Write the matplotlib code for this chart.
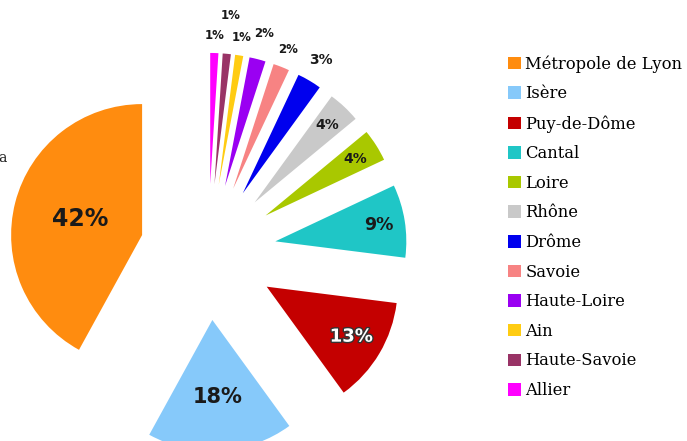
import numpy as np
import matplotlib
matplotlib.use("Agg")
import matplotlib.pyplot as plt
import matplotlib.patheffects as pe
from matplotlib.patches import Patch

# share of each département, in percent
departements = ["Métropole de Lyon", "Isère", "Puy-de-Dôme", "Cantal", "Loire",
                "Rhône", "Drôme", "Savoie", "Haute-Loire", "Ain",
                "Haute-Savoie", "Allier"]
parts = [42, 18, 13, 9, 4, 4, 3, 2, 2, 1, 1, 1]

couleurs = ["#ff8c0f", "#86c9fa", "#c40000", "#1fc6c6", "#a9c800", "#c9c9c9",
            "#0000ee", "#f78383", "#9a00f2", "#ffcc12", "#993366", "#ff00ff"]

# label distance from the pie centre (in radii), size per slice
lab_r = [1.01, 1.11, 1.27, 1.32, 1.33, 1.33, 1.70, 1.66, 1.72, 1.66, 1.81, 1.65]
lab_fs = [17, 15, 13, 12.5, 10, 10, 10, 8.5, 8.5, 8.5, 8.5, 8.5]

fig = plt.figure(figsize=(6.87, 4.41), dpi=100)
ax = fig.add_axes([0, 0, 1, 1])
ax.axis("off")

expl = 0.52
wedges, _ = ax.pie(parts, colors=couleurs, startangle=90, counterclock=True,
                   explode=[expl] * len(parts), radius=1.0,
                   wedgeprops=dict(linewidth=0))

for w, p, r, fs in zip(wedges, parts, lab_r, lab_fs):
    a = np.deg2rad((w.theta1 + w.theta2) / 2)
    kw = dict(ha="center", va="center", fontsize=fs, fontweight="bold",
              family="DejaVu Sans", color="#1a1a1a")
    if p == 13:
        kw["color"] = "white"
        kw["path_effects"] = [pe.withStroke(linewidth=2, foreground="#333333")]
    ax.text(r * np.cos(a), r * np.sin(a), f"{p}%", **kw)

# cut-off text at the left border
ax.text(-1.60, 0.72, "a", ha="left", va="center", fontsize=10,
        family="DejaVu Serif", color="#222222")

ax.set_xlim(-1.588, 3.656)
ax.set_ylim(-1.443, 1.924)

handles = [Patch(facecolor=c, edgecolor="none") for c in couleurs]
leg = fig.legend(handles, departements, loc="upper left",
                 bbox_to_anchor=(0.730, 0.8895), frameon=False,
                 prop=dict(family="DejaVu Serif", size=11.8),
                 handlelength=0.8, handleheight=0.8, handletextpad=0.25,
                 labelspacing=0.77, borderaxespad=0)

fig.savefig("out.png", dpi=100)
